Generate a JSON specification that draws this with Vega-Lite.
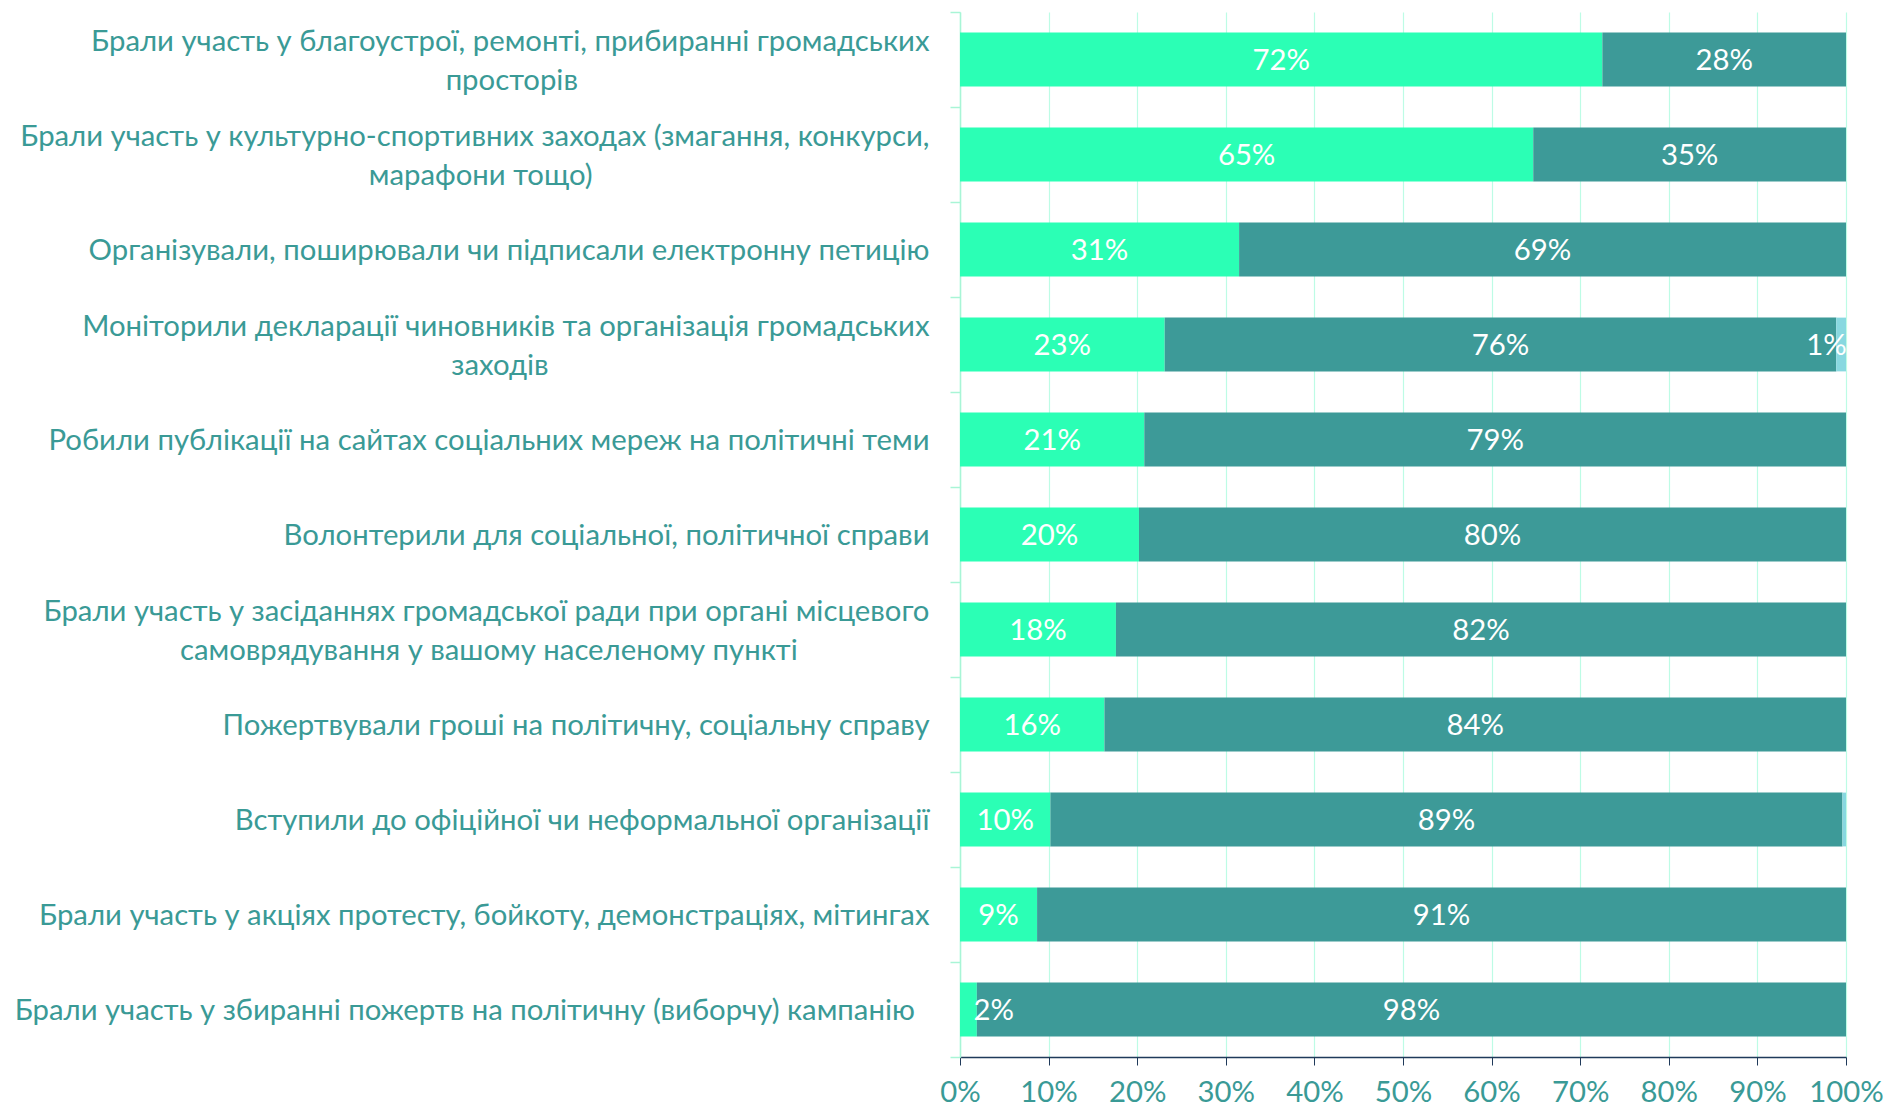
{
  "$schema": "https://vega.github.io/schema/vega-lite/v6.json",
  "width": 886,
  "height": 1045,
  "autosize": {"type": "none"},
  "padding": {"left": 960, "top": 12, "right": 40, "bottom": 54},
  "background": "white",
  "config": {"view": {"stroke": null}, "font": "Lato"},
  "data": {
    "values": [
      {"rank": 1, "activity": "Брали участь у благоустрої, ремонті, прибиранні громадських|просторів\u2002\u2002\u2002\u2002\u2002\u2002\u2002\u2002\u2002\u2002\u2002\u2002\u2002\u2002\u2002\u2002\u2002\u2002\u2002\u2002\u2002\u2002\u2002\u2002\u200b", "series": "Так", "order": 1, "value": 72.5, "label": "72%"},
      {"rank": 1, "activity": "Брали участь у благоустрої, ремонті, прибиранні громадських|просторів\u2002\u2002\u2002\u2002\u2002\u2002\u2002\u2002\u2002\u2002\u2002\u2002\u2002\u2002\u2002\u2002\u2002\u2002\u2002\u2002\u2002\u2002\u2002\u2002\u200b", "series": "Ні", "order": 2, "value": 27.5, "label": "28%"},
      {"rank": 2, "activity": "Брали участь у культурно-спортивних заходах (змагання, конкурси,|марафони тощо)\u2002\u2002\u2002\u2002\u2002\u2002\u2002\u2002\u2002\u2002\u2002\u2002\u2002\u2002\u2002\u2002\u2002\u2002\u2002\u2002\u2002\u2002\u2002\u200b", "series": "Так", "order": 1, "value": 64.7, "label": "65%"},
      {"rank": 2, "activity": "Брали участь у культурно-спортивних заходах (змагання, конкурси,|марафони тощо)\u2002\u2002\u2002\u2002\u2002\u2002\u2002\u2002\u2002\u2002\u2002\u2002\u2002\u2002\u2002\u2002\u2002\u2002\u2002\u2002\u2002\u2002\u2002\u200b", "series": "Ні", "order": 2, "value": 35.3, "label": "35%"},
      {"rank": 3, "activity": "Організували, поширювали чи підписали електронну петицію", "series": "Так", "order": 1, "value": 31.5, "label": "31%"},
      {"rank": 3, "activity": "Організували, поширювали чи підписали електронну петицію", "series": "Ні", "order": 2, "value": 68.5, "label": "69%"},
      {"rank": 4, "activity": "Моніторили декларації чиновників та організація громадських|заходів\u2002\u2002\u2002\u2002\u2002\u2002\u2002\u2002\u2002\u2002\u2002\u2002\u2002\u2002\u2002\u2002\u2002\u2002\u2002\u2002\u2002\u2002\u2002\u2002\u2002\u2002\u200b", "series": "Так", "order": 1, "value": 23.1, "label": "23%"},
      {"rank": 4, "activity": "Моніторили декларації чиновників та організація громадських|заходів\u2002\u2002\u2002\u2002\u2002\u2002\u2002\u2002\u2002\u2002\u2002\u2002\u2002\u2002\u2002\u2002\u2002\u2002\u2002\u2002\u2002\u2002\u2002\u2002\u2002\u2002\u200b", "series": "Ні", "order": 2, "value": 75.8, "label": "76%"},
      {"rank": 4, "activity": "Моніторили декларації чиновників та організація громадських|заходів\u2002\u2002\u2002\u2002\u2002\u2002\u2002\u2002\u2002\u2002\u2002\u2002\u2002\u2002\u2002\u2002\u2002\u2002\u2002\u2002\u2002\u2002\u2002\u2002\u2002\u2002\u200b", "series": "Важко відповісти", "order": 3, "value": 1.1, "label": "1%"},
      {"rank": 5, "activity": "Робили публікації на сайтах соціальних мереж на політичні теми", "series": "Так", "order": 1, "value": 20.8, "label": "21%"},
      {"rank": 5, "activity": "Робили публікації на сайтах соціальних мереж на політичні теми", "series": "Ні", "order": 2, "value": 79.2, "label": "79%"},
      {"rank": 6, "activity": "Волонтерили для соціальної, політичної справи", "series": "Так", "order": 1, "value": 20.2, "label": "20%"},
      {"rank": 6, "activity": "Волонтерили для соціальної, політичної справи", "series": "Ні", "order": 2, "value": 79.8, "label": "80%"},
      {"rank": 7, "activity": "Брали участь у засіданнях громадської ради при органі місцевого|самоврядування у вашому населеному пункті\u2002\u2002\u2002\u2002\u2002\u2002\u2002\u2002\u2002\u200b", "series": "Так", "order": 1, "value": 17.6, "label": "18%"},
      {"rank": 7, "activity": "Брали участь у засіданнях громадської ради при органі місцевого|самоврядування у вашому населеному пункті\u2002\u2002\u2002\u2002\u2002\u2002\u2002\u2002\u2002\u200b", "series": "Ні", "order": 2, "value": 82.4, "label": "82%"},
      {"rank": 8, "activity": "Пожертвували гроші на політичну, соціальну справу", "series": "Так", "order": 1, "value": 16.3, "label": "16%"},
      {"rank": 8, "activity": "Пожертвували гроші на політичну, соціальну справу", "series": "Ні", "order": 2, "value": 83.7, "label": "84%"},
      {"rank": 9, "activity": "Вступили до офіційної чи неформальної організації", "series": "Так", "order": 1, "value": 10.2, "label": "10%"},
      {"rank": 9, "activity": "Вступили до офіційної чи неформальної організації", "series": "Ні", "order": 2, "value": 89.4, "label": "89%"},
      {"rank": 9, "activity": "Вступили до офіційної чи неформальної організації", "series": "Важко відповісти", "order": 3, "value": 0.4, "label": ""},
      {"rank": 10, "activity": "Брали участь у акціях протесту, бойкоту, демонстраціях, мітингах", "series": "Так", "order": 1, "value": 8.7, "label": "9%"},
      {"rank": 10, "activity": "Брали участь у акціях протесту, бойкоту, демонстраціях, мітингах", "series": "Ні", "order": 2, "value": 91.3, "label": "91%"},
      {"rank": 11, "activity": "Брали участь у збиранні пожертв на політичну (виборчу) кампанію\u2002\u200b", "series": "Так", "order": 1, "value": 1.9, "label": "2%"},
      {"rank": 11, "activity": "Брали участь у збиранні пожертв на політичну (виборчу) кампанію\u2002\u200b", "series": "Ні", "order": 2, "value": 98.1, "label": "98%"}
    ]
  },
  "transform": [
    {"stack": "value", "groupby": ["activity"], "sort": [{"field": "order"}], "as": ["x0", "x1"]},
    {"calculate": "clamp((datum.x0 + datum.x1) / 2, 3.8, 97.8)", "as": "mid"}
  ],
  "encoding": {
    "y": {
      "field": "activity",
      "type": "nominal",
      "sort": {"field": "rank", "op": "min"},
      "scale": {"paddingInner": 0, "paddingOuter": 0},
      "axis": {
        "title": null,
        "labelExpr": "split(datum.label, '|')",
        "labelFontSize": 29.3,
        "labelLineHeight": 38.5,
        "labelColor": "#3A9A96",
        "labelLimit": 0,
        "labelPadding": 21,
        "labelAlign": "right",
        "labelBaseline": "middle",
        "labelOffset": {"condition": {"test": "indexof(datum.label, '|') >= 0", "value": -18}, "value": 1},
        "tickSize": 10,
        "tickColor": "#A8F5D6",
        "tickWidth": 1.5,
        "domainColor": "#A8F5D6",
        "domainWidth": 1.5,
        "tickBand": "extent",
        "grid": false
      }
    }
  },
  "layer": [
    {
      "mark": {"type": "bar", "height": {"band": 0.566}},
      "encoding": {
        "x": {
          "field": "x0",
          "type": "quantitative",
          "scale": {"domain": [0, 100], "nice": false},
          "axis": {
            "title": null,
            "values": [0, 10, 20, 30, 40, 50, 60, 70, 80, 90, 100],
            "labelExpr": "datum.value + '%'",
            "labelFontSize": 29.3,
            "labelColor": "#3A9A96",
            "labelPadding": 13,
            "labelOverlap": false,
            "labelFlush": false,
            "tickSize": 8,
            "tickColor": "#1F3A5A",
            "domainColor": "#1F3A5A",
            "domainWidth": 1.5,
            "grid": true,
            "gridColor": "#BDFCE5",
            "gridWidth": 1.2
          }
        },
        "x2": {"field": "x1"},
        "color": {
          "field": "series",
          "type": "nominal",
          "scale": {"domain": ["Так", "Ні", "Важко відповісти"], "range": ["#2BFFB5", "#3D9A98", "#88D8E0"]},
          "legend": null
        }
      }
    },
    {
      "mark": {"type": "text", "color": "white", "fontSize": 29.3, "baseline": "middle", "align": "center", "dy": 1},
      "encoding": {
        "x": {"field": "mid", "type": "quantitative"},
        "text": {"field": "label"}
      }
    }
  ]
}
